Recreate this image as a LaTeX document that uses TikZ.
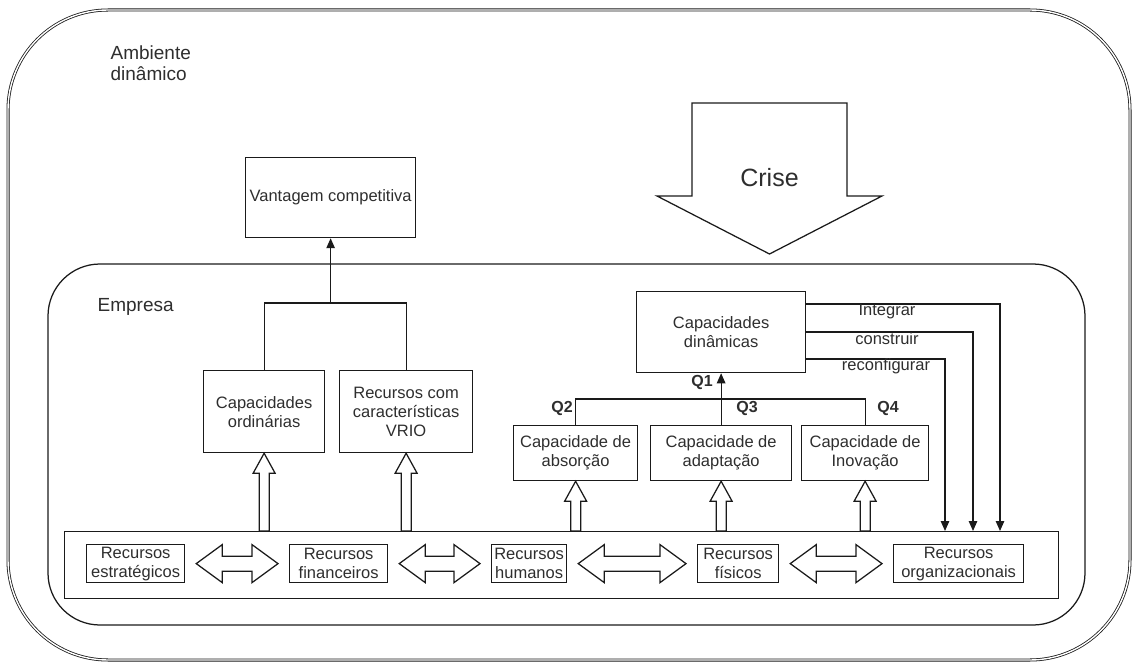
\documentclass[tikz,border=0pt]{standalone}
\usepackage{fontspec}
\setmainfont{Liberation Sans}
\usetikzlibrary{calc,arrows.meta}
\definecolor{linec}{HTML}{1A1A1A}
\definecolor{textc}{HTML}{2E2E2E}
\newcommand{\hollowup}[2]{%
  \draw[blk] let \p1=(#1), \p2=(#2) in
   (\x1,\y1) -- (\x1+11pt,\y1-20pt) -- (\x1+5pt,\y1-20pt) -- (\x1+5pt,\y2)
   -- (\x1-5pt,\y2) -- (\x1-5pt,\y1-20pt) -- (\x1-11pt,\y1-20pt) -- cycle;}
\newcommand{\hollowdbl}[2]{%
  \draw[blk] let \p1=($(#1.east)+(11pt,0)$), \p2=($(#2.west)+(-11pt,0)$) in
   (\x1,\y1) -- (\x1+26pt,\y1+19pt) -- (\x1+26pt,\y1+7.5pt) -- (\x2-26pt,\y1+7.5pt)
   -- (\x2-26pt,\y1+19pt) -- (\x2,\y1) -- (\x2-26pt,\y1-19pt) -- (\x2-26pt,\y1-7.5pt)
   -- (\x1+26pt,\y1-7.5pt) -- (\x1+26pt,\y1-19pt) -- cycle;}
\begin{document}
\begin{tikzpicture}[x=1pt,y=-1pt,line width=1.25pt,draw=linec,
  blk/.style={draw=linec,line width=1.25pt},
  box/.style={draw=linec,line width=1.25pt,text=textc,
    font=\fontsize{16.5}{19}\selectfont,align=center,inner sep=0pt,anchor=north west},
  lbl/.style={text=textc,font=\fontsize{16.5}{19}\selectfont,inner sep=0pt},
  qlbl/.style={text=textc,font=\fontsize{16}{19}\selectfont\bfseries,inner sep=0pt},
  big/.style={text=textc,font=\fontsize{19}{21.5}\selectfont,inner sep=0pt,align=left},
  tip/.style={-{Triangle[length=10pt,width=8.5pt]}}]
\useasboundingbox (0,0) rectangle (1133,663);

% outer environment
\draw[draw=linec,double=white,double distance=1.4pt,line width=0.8pt,rounded corners=100pt]
  (8,10) rectangle (1130,660);
\node[big,anchor=north west] (amb) at (110,45) {Ambiente\\dinâmico};

% company
\draw[blk,rounded corners=52pt] (48,264) rectangle (1085,625);
\node[big,anchor=base west] (emp) at (97,311) {Empresa};

% crisis arrow
\draw[blk] (692,103) -- (847,103) -- (847,196) -- (882,196) -- (769.5,254)
  -- (657,196) -- (692,196) -- cycle;
\node[text=textc,font=\fontsize{25}{28}\selectfont,inner sep=0pt] (crise) at (769.5,178) {Crise};

% resources container
\node[box,minimum width=994pt,minimum height=67pt] (res) at (64,531) {};
\node[box,minimum width=98pt,minimum height=38pt] (re) at (86,544) {Recursos\\estratégicos};
\node[box,minimum width=98pt,minimum height=38pt] (rf) at (289,544) {Recursos\\financeiros};
\node[box,minimum width=75pt,minimum height=38pt] (rh) at (491,544) {Recursos\\humanos};
\node[box,minimum width=81pt,minimum height=38pt] (rfi) at (697,544) {Recursos\\físicos};
\node[box,minimum width=130pt,minimum height=38pt] (ro) at (893,544) {Recursos\\organizacionais};

\hollowdbl{re}{rf}
\hollowdbl{rf}{rh}
\hollowdbl{rh}{rfi}
\hollowdbl{rfi}{ro}

% left branch
\node[box,minimum width=170pt,minimum height=80pt] (vc) at (245,157) {Vantagem competitiva};
\node[box,minimum width=121pt,minimum height=82pt] (co) at (203,370) {Capacidades\\ordinárias};
\node[box,minimum width=133pt,minimum height=82pt] (vr) at (339,370) {Recursos com\\características\\VRIO};
\coordinate (j1) at (vc.south |- 0,303);
\draw[blk] (co.north) -- ++(0,-67) -| (vr.north);
\draw[blk,tip] (j1) -- (vc.south);
\hollowup{co.south}{co.south |- res.north}
\hollowup{vr.south}{vr.south |- res.north}

% dynamic capabilities
\node[box,minimum width=169pt,minimum height=81pt] (cd) at (636,291) {Capacidades\\dinâmicas};
\node[box,minimum width=124pt,minimum height=55pt] (ab) at (513,425) {Capacidade de\\absorção};
\node[box,minimum width=141pt,minimum height=55pt] (ad) at (650,425) {Capacidade de\\adaptação};
\node[box,minimum width=127pt,minimum height=55pt] (in) at (801,425) {Capacidade de\\Inovação};
\draw[blk] (ab.north) -- ++(0,-26) -| (in.north);
\draw[blk,tip] (ad.north) -- (cd.south);
\node[qlbl] (q1) at (702,382) {Q1};
\node[qlbl] (q2) at (562,408) {Q2};
\node[qlbl] (q3) at (747,408) {Q3};
\node[qlbl] (q4) at (888,408) {Q4};
\hollowup{ab.south}{ab.south |- res.north}
\hollowup{ad.south}{ad.south |- res.north}
\hollowup{in.south}{in.south |- res.north}

% integrate / build / reconfigure
\coordinate (a1) at (945,531);
\coordinate (a2) at (973,531);
\coordinate (a3) at (1000,531);
\draw[blk,tip] ($(cd.north east)+(0,13)$) -| (a3);
\draw[blk,tip] ($(cd.north east)+(0,41)$) -| (a2);
\draw[blk,tip] ($(cd.north east)+(0,68)$) -| (a1);
\node[lbl] (l1) at (887,312) {Integrar};
\node[lbl] (l2) at (887,339) {construir};
\node[lbl] (l3) at (886,366) {reconfigurar};
\end{tikzpicture}
\end{document}
